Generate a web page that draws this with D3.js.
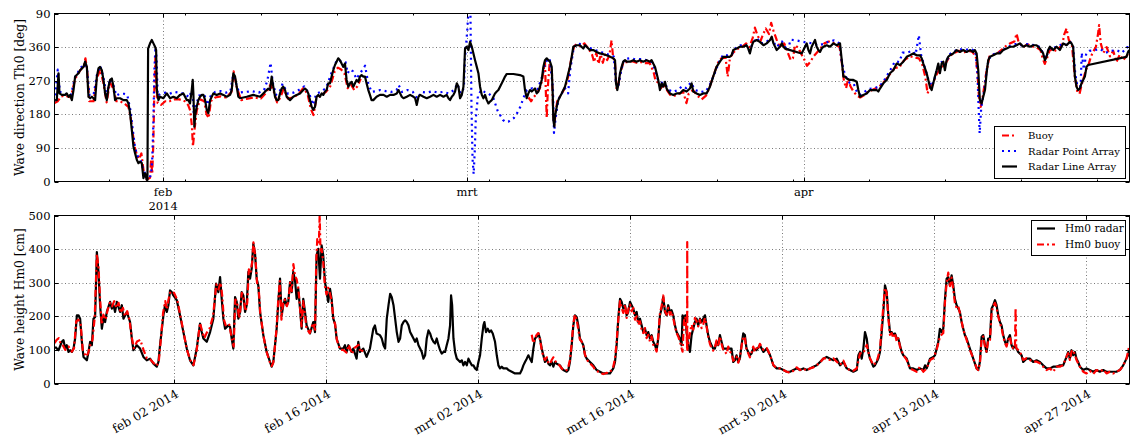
<!DOCTYPE html>
<html>
<head>
<meta charset="utf-8">
<script src="https://cdn.jsdelivr.net/npm/d3@7"></script>
<style>
  body { margin: 0; background: #fff; }
  text { font-family: "DejaVu Serif", serif; fill: #000; }
</style>
</head>
<body>
<svg id="chart" width="1130" height="441"></svg>
<script>
// Time axis: days elapsed since 2014-01-22 00:00 UTC
const startDay = Date.UTC(2014, 0, 22);
const endDay = Date.UTC(2014, 4, 1);

// Upper panel: wave direction Th0 [deg]
const dirTicks = [0, 90, 180, 270, 360, 450];
const dirTickLabels = ["0", "90", "180", "270", "360", "90"];
const dirMonthTicks = [Date.UTC(2014, 1, 1), Date.UTC(2014, 2, 1), Date.UTC(2014, 3, 1)];
const dirMonthLabels = [["feb", "2014"], ["mrt"], ["apr"]];

// Lower panel: wave height Hm0 [cm]
const hmTicks = [0, 100, 200, 300, 400, 500];
const hmDateTicks = [Date.UTC(2014, 1, 2), Date.UTC(2014, 1, 16), Date.UTC(2014, 2, 2), Date.UTC(2014, 2, 16),
                     Date.UTC(2014, 2, 30), Date.UTC(2014, 3, 13), Date.UTC(2014, 3, 27)];
const hmDateLabels = ["feb 02 2014", "feb 16 2014", "mrt 02 2014", "mrt 16 2014", "mrt 30 2014", "apr 13 2014", "apr 27 2014"];

const dirLegend = ["Buoy", "Radar Point Array", "Radar Line Array"];
const hmLegend = ["Hm0 radar", "Hm0 buoy"];

// Wave direction, radar line array [day, deg]
const dirLine = [[0.06,218],[0.21,218],[0.37,290],[0.46,236],[0.67,232],[0.98,232],[1.13,236],[1.29,227],[1.44,232],[1.60,218],[1.75,245],[1.90,281],[2.21,290],[2.36,298],[2.52,303],[2.67,307],[2.82,321],[2.98,307],[3.13,227],[3.28,223],[3.44,227],[3.59,223],[3.74,218],[3.90,281],[4.05,303],[4.20,307],[4.36,298],[4.51,272],[4.66,236],[4.82,218],[4.97,254],[5.12,272],[5.28,276],[5.43,254],[5.58,218],[5.74,223],[6.04,223],[6.35,218],[6.66,218],[6.81,209],[6.96,183],[7.12,138],[7.27,94],[7.42,76],[7.58,58],[7.73,49],[7.88,53],[8.04,49],[8.19,9],[8.34,22],[8.50,4],[8.56,4],[8.62,356],[8.80,370],[8.96,379],[9.11,370],[9.26,361],[9.36,352],[9.42,245],[9.57,218],[9.72,227],[10.03,223],[10.34,236],[10.64,223],[10.95,227],[11.26,223],[11.56,232],[11.87,236],[12.18,218],[12.33,218],[12.48,209],[12.64,245],[12.73,272],[12.79,236],[12.88,147],[12.98,183],[13.10,200],[13.25,218],[13.40,227],[13.56,232],[13.71,232],[13.87,218],[14.02,192],[14.17,183],[14.33,218],[14.48,227],[14.63,236],[14.94,232],[15.25,236],[15.55,232],[15.86,227],[16.17,232],[16.32,245],[16.47,290],[16.63,281],[16.78,254],[16.93,227],[17.09,223],[17.70,227],[18.31,232],[18.93,227],[19.23,236],[19.54,245],[19.69,249],[19.85,245],[20.00,281],[20.15,254],[20.31,227],[20.46,218],[20.61,218],[20.77,236],[20.92,249],[21.07,254],[21.23,245],[21.38,227],[21.69,218],[21.99,227],[22.30,232],[22.61,236],[22.91,245],[23.07,249],[23.22,245],[23.37,236],[23.53,218],[23.68,200],[23.83,192],[23.99,200],[24.14,227],[24.29,232],[24.45,227],[24.60,236],[24.75,232],[24.91,241],[25.06,245],[25.21,263],[25.37,263],[25.52,281],[25.67,298],[25.83,312],[25.98,321],[26.13,330],[26.29,325],[26.44,316],[26.60,307],[26.75,316],[26.90,272],[27.06,254],[27.21,263],[27.36,267],[27.52,254],[27.67,263],[27.82,272],[27.98,267],[28.13,281],[28.28,285],[28.44,281],[28.59,281],[28.74,263],[28.90,245],[29.05,232],[29.20,218],[29.36,218],[29.66,227],[29.97,232],
  [30.30,232],[30.60,227],[30.91,232],[31.22,232],[31.52,236],[31.68,245],[31.83,236],[31.98,227],[32.14,223],[32.44,227],[32.75,232],[33.06,227],[33.21,223],[33.36,205],[33.52,227],[33.67,232],[33.98,227],[34.28,223],[34.59,227],[34.90,232],[35.20,227],[35.51,232],[35.82,227],[36.12,232],[36.28,223],[36.43,218],[36.59,227],[36.74,232],[36.89,241],[37.05,263],[37.20,254],[37.35,223],[37.51,232],[37.66,254],[37.81,356],[37.97,361],[38.12,352],[38.27,374],[38.43,361],[38.58,343],[38.73,325],[38.89,307],[39.04,290],[39.19,254],[39.35,232],[39.50,223],[39.65,232],[39.81,218],[39.96,209],[40.11,214],[40.27,218],[40.42,227],[40.57,236],[40.73,241],[40.88,245],[41.03,254],[41.19,263],[41.34,272],[41.49,281],[41.65,288],[42.26,288],[42.87,285],[43.18,281],[43.33,245],[43.49,223],[43.64,236],[43.79,245],[43.95,241],[44.10,245],[44.25,249],[44.41,236],[44.56,241],[44.71,254],[44.87,272],[45.02,307],[45.17,325],[45.33,330],[45.48,325],[45.63,321],[45.79,307],[45.88,236],[45.94,165],[46.03,147],[46.09,174],[46.25,200],[46.40,218],[46.55,227],[46.71,236],[46.86,245],[47.01,254],[47.17,272],[47.32,290],[47.47,307],[47.63,334],[47.78,361],[48.09,365],[48.39,365],[48.70,356],[48.86,365],[49.01,361],[49.31,352],[49.62,352],[49.93,347],[50.23,343],[50.54,341],[50.85,338],[51.16,334],[51.46,330],[51.62,325],[51.71,263],[51.83,245],[51.95,263],[52.08,290],[52.23,307],[52.38,321],[52.54,325],[52.69,321],[53.00,321],[53.30,325],[53.61,321],[53.92,325],[54.22,321],[54.53,325],[54.84,321],[54.99,325],[55.14,316],[55.30,307],[55.45,290],[55.60,272],[55.76,245],[55.91,263],[56.06,254],[56.22,267],[56.37,249],[56.68,236],[56.98,232],[57.29,236],[57.60,236],[57.90,245],[58.21,241],[58.52,249],[58.67,263],[58.82,241],[59.13,236],[59.44,232],[59.74,236],[60.05,236],[60.36,254],[60.66,281],[60.97,307],[61.28,321],[61.59,334],[61.89,334],[62.20,334],[62.35,338],[62.51,352],[62.81,356],[63.12,361],[63.43,361],[63.73,365],[63.89,356],[64.04,343],[64.19,361],[64.35,374],[64.65,379],[64.96,374],
  [65.29,365],[65.59,370],[65.90,379],[66.05,388],[66.21,370],[66.51,352],[66.82,361],[66.97,370],[67.13,361],[67.28,356],[68.81,343],[68.97,352],[69.12,361],[69.27,370],[69.43,352],[69.58,343],[69.73,361],[69.89,370],[70.04,379],[70.19,361],[70.35,352],[70.50,347],[70.65,356],[70.81,361],[71.11,365],[71.42,361],[71.73,370],[72.04,365],[72.34,370],[72.50,325],[72.65,281],[72.80,281],[72.96,276],[73.26,272],[73.57,272],[73.88,267],[74.03,245],[74.18,227],[74.49,232],[74.80,236],[75.10,245],[75.41,245],[75.72,245],[75.87,241],[76.02,249],[76.33,263],[76.64,272],[76.94,290],[77.25,298],[77.56,316],[77.86,312],[78.17,321],[78.48,334],[78.78,338],[79.09,343],[79.40,338],[79.70,338],[79.86,330],[80.01,316],[80.32,290],[80.47,272],[80.62,254],[80.78,245],[80.93,263],[81.08,281],[81.24,298],[81.39,316],[81.54,290],[81.70,316],[81.85,321],[82.00,298],[82.16,325],[82.31,334],[82.46,338],[82.77,343],[83.08,352],[83.38,347],[83.69,352],[84.00,347],[84.30,352],[84.61,347],[84.76,352],[84.92,343],[85.07,298],[85.22,218],[85.38,209],[85.53,227],[85.69,245],[85.84,290],[85.99,325],[86.15,334],[86.45,338],[86.76,343],[87.07,343],[87.37,352],[87.68,356],[87.99,361],[88.29,361],[88.60,365],[88.91,370],[89.21,361],[89.52,365],[89.83,361],[90.13,365],[90.44,365],[90.75,356],[91.05,343],[91.21,325],[91.36,334],[91.51,352],[91.67,361],[91.97,352],[92.28,361],[92.59,352],[92.89,370],[93.20,365],[93.51,374],[93.66,370],[93.81,361],[93.97,281],[94.12,254],[94.27,245],[94.43,249],[94.58,263],[94.73,272],[94.89,281],[95.04,307],[95.19,312],[98.72,334],[98.87,347],[98.97,352]];

// Wave direction, radar point array [day, deg]
const dirPoint = [[0.0,215],[0.3,300],[0.5,240],[1.0,235],[1.5,230],[1.9,280],[2.3,300],[2.7,315],[3.0,300],[3.2,232],[3.6,232],[3.9,285],[4.2,310],[4.5,280],[4.8,230],[5.1,275],[5.4,260],[5.7,230],[6.0,235],[6.4,235],[6.7,232],[7.0,190],[7.2,140],[7.4,95],[7.6,70],[7.9,60],[8.2,30],[8.5,10],[8.7,5],[8.9,20],[9.0,60],[9.1,150],[9.2,300],[9.3,360],[9.4,330],[9.5,230],[9.8,235],[10.2,238],[10.6,235],[11.0,240],[11.5,238],[12.0,235],[12.4,225],[12.7,250],[12.85,170],[13.0,200],[13.3,230],[13.8,232],[14.1,205],[14.4,230],[14.8,240],[15.3,242],[15.8,238],[16.2,242],[16.45,285],[16.7,265],[17.0,238],[17.6,240],[18.2,242],[18.8,238],[19.3,245],[19.6,270],[19.9,318],[20.1,265],[20.4,232],[20.8,245],[21.0,262],[21.5,235],[22.0,238],[22.5,245],[23.0,255],[23.5,232],[23.8,205],[24.1,235],[24.5,240],[25.0,250],[25.5,290],[26.0,325],[26.4,322],[26.8,320],[27.0,290],[27.2,300],[27.5,295],[27.8,275],[28.2,292],[28.6,310],[28.9,262],[29.2,240],[29.6,242],[30.0,245],[30.5,242],[31.0,240],[31.5,245],[31.7,258],[32.0,240],[32.5,245],[33.0,240],[33.4,222],[33.8,240],[34.3,238],[34.8,242],[35.3,238],[35.8,240],[36.3,236],[36.8,245],[37.1,262],[37.4,236],[37.7,250],[37.8,330],[38.0,400],[38.15,470],[38.3,470],[38.4,200],[38.5,60],[38.6,20],[38.7,80],[38.8,170],[39.0,230],[39.3,245],[39.6,240],[40.0,235],[40.4,225],[40.8,190],[41.0,180],[41.3,165],[41.5,160],[41.8,160],[42.0,165],[42.3,170],[42.6,183],[42.9,200],[43.2,225],[43.5,245],[44.0,250],[44.5,248],[44.9,280],[45.2,320],[45.6,330],[45.9,250],[46.0,130],[46.15,170],[46.4,220],[46.8,240],[47.0,250],[47.3,236],[47.5,300],[47.8,355],[48.1,370],[48.5,368],[49.0,362],[49.5,355],[50.0,350],[50.5,345],[51.0,340],[51.5,335],[51.7,265],[51.9,250],[52.2,300],[52.5,328],[53.0,330],[53.5,327],[54.0,328],[54.5,325],[55.0,320],[55.3,300],[55.6,270],[55.9,265],[56.2,262],[56.6,245],[57.0,240],[57.4,245],[57.8,255],[58.2,250],[58.6,265],[59.0,245],[59.5,240],[60.0,242],[60.4,262],[60.8,290],[61.2,320],[61.6,340],[62.0,338],[62.4,342],[62.8,360],[63.2,365],[63.6,368],[64.0,350],[64.3,370],[64.7,385],[65.0,370],[65.5,372],[66.0,385],[66.5,360],[67.0,375],[67.5,350],[67.8,380],[68.3,378],[68.8,375],[69.3,372],[69.8,370],[70.3,365],[70.8,368],[71.3,375],[71.8,378],[72.3,370],[72.5,320],[72.8,285],[73.2,265],[73.6,262],[73.9,240],[74.2,232],[74.6,240],[75.0,248],[75.5,250],[76.0,255],[76.5,275],[77.0,300],[77.4,322],[77.8,320],[78.1,345],[78.5,345],[79.0,350],[79.3,340],[79.6,392],[79.8,340],[80.1,310],[80.4,280],[80.7,255],[81.0,270],[81.3,305],[81.7,320],[82.0,310],[82.4,340],[82.8,348],[83.3,355],[83.8,352],[84.3,355],[84.8,350],[85.0,290],[85.1,200],[85.2,129],[85.35,200],[85.6,240],[85.9,310],[86.2,338],[86.6,342],[87.0,345],[87.5,355],[88.0,363],[88.5,368],[89.0,365],[89.5,368],[90.0,366],[90.5,365],[90.8,358],[91.1,340],[91.3,330],[91.6,355],[92.0,358],[92.4,362],[92.8,368],[93.2,366],[93.5,375],[93.8,365],[94.0,290],[94.2,255],[94.5,255],[94.6,345],[94.8,300],[95.0,340],[95.3,350],[95.8,352],[96.3,355],[96.8,345],[97.3,350],[97.8,352],[98.3,345],[98.8,360],[99.0,355]];

// Wave direction, buoy [day, deg]; null marks a gap in the record
const dirBuoy = [[0.0,210],[0.3,215],[0.6,228],[1.0,230],[1.5,225],[1.9,275],[2.3,295],[2.7,310],[2.85,330],[3.0,300],[3.2,215],[3.6,215],[3.9,275],[4.2,300],[4.5,265],[4.8,212],[5.1,265],[5.4,250],[5.7,215],[6.0,215],[6.4,210],[6.8,200],[7.0,175],[7.2,130],[7.4,90],[7.6,70],[7.8,60],[8.0,75],[8.2,30],[8.5,5],[8.8,10],[8.9,60],[9.0,20],[9.1,100],[9.2,250],[9.3,340],[9.4,250],[9.5,210],[9.8,205],[10.2,215],[10.6,215],[11.0,220],[11.5,220],[12.0,215],[12.3,205],[12.5,190],[12.65,150],[12.75,94],[12.9,140],[13.1,190],[13.4,220],[13.8,215],[14.0,180],[14.2,170],[14.4,215],[14.8,225],[15.3,228],[15.8,225],[16.3,240],[16.5,295],[16.8,250],[17.2,218],[17.8,222],[18.4,225],[19.0,222],[19.5,238],[19.9,260],[20.2,240],[20.5,212],[20.8,225],[21.1,248],[21.5,222],[22.0,225],[22.5,235],[22.9,250],[23.3,235],[23.6,195],[23.85,178],[24.1,220],[24.5,230],[25.0,240],[25.4,255],[25.8,295],[26.1,305],[26.4,300],[26.7,290],[27.0,250],[27.3,260],[27.6,245],[27.9,255],[28.2,275],null,
  [43.65,225],[43.9,215],[44.1,225],[44.4,235],[44.7,250],[44.9,270],[45.1,310],[45.17,320],[45.25,240],[45.33,170],[45.45,260],[45.6,318],[45.8,300],[45.93,180],[46.03,150],[46.15,185],[46.3,215],[46.6,230],[47.0,250],[47.3,280],[47.6,330],[47.85,362],[48.1,368],[48.5,362],[48.8,370],[49.2,355],[49.5,340],[49.7,320],[49.9,345],[50.1,315],[50.3,340],[50.5,318],[50.7,340],[50.9,325],[51.1,338],[51.3,378],[51.45,330],[51.6,325],[51.75,250],[51.9,255],[52.1,290],[52.4,320],[52.8,320],[53.2,322],[53.6,318],[54.0,320],[54.4,317],[54.8,318],[55.0,305],[55.2,290],[55.35,270],[55.6,265],[55.85,250],[56.1,262],[56.4,245],[56.7,232],[57.1,230],[57.5,235],[57.9,240],[58.2,210],[58.4,235],[58.8,245],[59.2,230],[59.6,220],[60.0,230],[60.3,250],[60.7,285],[61.1,318],[61.4,330],[61.8,332],[62.0,281],[62.2,330],[62.5,345],[62.9,355],[63.3,360],[63.7,370],[64.0,360],[64.3,385],[64.5,412],[64.7,395],[65.0,375],[65.2,390],[65.5,410],[65.8,395],[66.0,425],[66.2,405],[66.5,380],[66.8,360],[67.2,370],[67.4,355],[67.6,340],[67.8,325],[68.0,330],[68.2,365],[68.5,358],[68.8,340],[69.0,330],[69.3,310],[69.6,320],[69.9,335],[70.2,345],[70.5,355],[70.9,370],[71.3,375],[71.7,372],[72.0,365],[72.3,360],[72.5,320],[72.7,270],[72.9,250],[73.1,275],[73.3,255],[73.6,240],[73.9,230],[74.2,225],[74.5,230],[74.9,240],[75.3,245],[75.8,252],[76.2,260],[76.6,275],[77.0,290],[77.4,305],[77.8,305],[78.1,320],[78.4,328],[78.8,335],[79.2,332],[79.6,330],[79.9,315],[80.2,280],[80.4,236],[80.6,250],[80.9,262],[81.2,285],[81.5,300],[81.8,310],[82.1,318],[82.5,338],[82.9,345],[83.3,350],[83.7,345],[84.1,350],[84.5,348],[84.85,335],[85.0,290],[85.15,220],[85.3,200],[85.5,230],[85.8,290],[86.1,335],[86.5,340],[86.9,345],[87.3,355],[87.7,365],[88.0,370],[88.4,375],[88.6,396],[88.8,372],[89.2,360],[89.6,368],[90.0,362],[90.4,360],[90.8,352],[91.0,330],[91.2,315],[91.4,330],[91.7,355],[92.0,348],[92.4,355],[92.8,365],[93.0,395],[93.2,410],[93.4,380],[93.7,365],[93.95,285],[94.2,240],[94.4,235],[94.6,260],[94.8,280],[95.0,300],[95.2,310],[95.4,330],[95.6,345],[95.9,360],[96.1,395],[96.2,419],[96.35,370],[96.6,345],[96.9,360],[97.2,335],[97.5,350],[97.8,320],[98.1,340],[98.4,325],[98.7,335],[98.95,345]];

// Wave height, radar [day, cm]
const hmRadar = [[0.06,109],[0.37,99],[0.67,124],[0.83,129],[0.98,104],[1.13,114],[1.29,94],[1.44,99],[1.60,94],[1.75,104],[1.90,134],[2.06,203],[2.21,203],[2.36,193],[2.52,124],[2.67,79],[2.98,69],[3.13,94],[3.28,124],[3.44,114],[3.59,193],[3.74,198],[3.90,391],[4.05,332],[4.20,233],[4.36,163],[4.51,193],[4.66,183],[4.82,213],[5.12,243],[5.28,223],[5.43,233],[5.58,213],[5.74,243],[6.04,213],[6.20,233],[6.35,193],[6.66,213],[6.96,183],[7.12,134],[7.27,99],[7.58,114],[7.88,104],[8.19,79],[8.50,69],[8.80,74],[9.11,59],[9.42,50],[9.57,64],[9.72,114],[10.03,203],[10.18,233],[10.34,213],[10.49,233],[10.64,277],[10.80,272],[10.95,262],[11.26,248],[11.56,203],[11.87,153],[12.18,104],[12.48,69],[12.79,54],[13.10,104],[13.40,178],[13.56,153],[13.71,134],[14.02,124],[14.33,153],[14.63,193],[14.88,297],[15.09,272],[15.25,317],[15.40,252],[15.55,193],[15.71,163],[16.01,173],[16.17,168],[16.32,134],[16.47,104],[16.63,257],[16.78,243],[16.93,193],[17.09,213],[17.24,272],[17.39,262],[17.55,213],[17.70,233],[17.85,332],[18.01,312],[18.16,342],[18.31,416],[18.47,386],[18.62,312],[18.77,292],[18.93,213],[19.23,144],[19.54,94],[19.85,64],[20.00,50],[20.15,64],[20.31,114],[20.46,163],[20.61,243],[20.77,312],[20.92,203],[21.07,233],[21.23,252],[21.38,233],[21.53,243],[21.69,302],[21.84,272],[21.99,332],[22.15,307],[22.30,252],[22.45,282],[22.61,223],[22.76,163],[22.91,252],[23.07,213],[23.22,173],[23.53,149],[23.83,183],[23.99,153],[24.14,381],[24.29,401],[24.45,312],[24.60,411],[24.75,381],[24.91,302],[25.06,272],[25.21,243],[25.37,282],[25.52,252],[25.67,193],[25.83,178],[25.98,134],[26.29,104],[26.60,104],[26.75,114],[26.90,94],[27.06,114],[27.36,94],[27.52,104],[27.82,74],[27.98,124],[28.13,94],[28.44,104],[28.74,79],[29.05,104],[29.36,163],[29.51,173],[29.66,149],[29.97,144],
  [30.14,134],[30.30,114],[30.45,104],[30.60,193],[30.76,233],[30.91,267],[31.06,257],[31.22,233],[31.37,193],[31.52,153],[31.68,124],[31.83,134],[31.98,173],[32.14,183],[32.29,188],[32.44,183],[32.60,173],[32.75,153],[32.90,144],[33.06,134],[33.21,124],[33.36,134],[33.52,114],[33.67,104],[33.82,94],[33.98,74],[34.13,84],[34.28,134],[34.44,158],[34.59,149],[34.74,134],[34.90,124],[35.05,119],[35.20,134],[35.36,114],[35.51,99],[35.66,89],[35.82,94],[35.97,94],[36.12,114],[36.28,134],[36.43,173],[36.52,262],[36.62,233],[36.74,134],[36.89,94],[37.05,74],[37.20,69],[37.35,64],[37.51,69],[37.66,54],[37.81,64],[37.97,54],[38.12,74],[38.27,64],[38.43,54],[38.58,54],[38.73,45],[38.89,40],[39.04,64],[39.19,84],[39.35,134],[39.50,173],[39.59,183],[39.74,153],[39.90,163],[40.05,153],[40.20,158],[40.36,149],[40.57,124],[40.73,84],[40.88,54],[41.03,45],[41.19,50],[41.34,45],[41.65,45],[41.80,40],[42.11,35],[42.41,30],[42.87,30],[43.03,40],[43.18,54],[43.33,64],[43.49,74],[43.64,84],[43.79,74],[43.95,64],[44.10,104],[44.25,134],[44.41,139],[44.56,149],[44.71,134],[44.87,104],[45.02,84],[45.17,64],[45.33,74],[45.48,59],[45.63,54],[45.79,64],[45.94,50],[46.09,64],[46.25,59],[46.55,54],[46.71,45],[46.86,40],[47.17,35],[47.32,40],[47.47,64],[47.63,114],[47.78,173],[47.93,203],[48.09,198],[48.24,173],[48.39,134],[48.55,124],[48.70,114],[48.86,84],[49.01,74],[49.31,64],[49.62,54],[49.93,40],[50.23,35],[50.54,30],[51.16,30],[51.46,45],[51.62,64],[51.77,114],[51.92,193],[52.08,252],[52.23,243],[52.38,223],[52.54,233],[52.69,203],[52.84,213],[53.00,243],[53.15,233],[53.30,223],[53.46,203],[53.61,213],[53.76,183],[53.92,193],[54.07,173],[54.22,153],[54.38,163],[54.53,144],[54.68,153],[54.84,134],[54.99,144],[55.14,124],[55.30,114],[55.45,99],[55.60,134],[55.76,203],[55.91,223],[56.06,257],[56.22,213],[56.37,203],[56.52,233],[56.68,213],[56.83,218],[56.98,203],[57.14,173],[57.29,153],[57.44,144],[57.60,134],[57.75,114],[57.84,203],[57.97,193],[58.09,203],[58.21,153],[58.36,114],[58.52,94],[58.67,144],[58.82,163],[58.98,183],[59.13,193],[59.28,173],[59.44,193],[59.59,183],[59.74,193],[59.90,203],[60.05,173],[60.20,144],[60.36,124],[60.51,114],[60.66,104],[60.82,104],[60.97,124],[61.12,114],[61.28,144],[61.43,124],[61.59,104],[62.35,104],[62.51,64],[62.66,69],[62.81,84],[62.97,64],[63.12,74],[63.27,114],[63.43,149],[63.58,144],[63.73,104],[63.89,94],[64.04,84],[64.19,89],[64.35,104],[64.65,99],[64.96,114],
  [65.29,94],[65.59,104],[65.90,84],[66.21,54],[66.51,45],[66.82,45],[67.13,40],[67.43,35],[67.74,35],[68.05,40],[68.35,45],[68.66,40],[68.97,45],[69.27,40],[69.58,45],[69.89,50],[70.19,54],[70.50,64],[70.81,74],[71.11,79],[71.42,74],[71.73,69],[72.04,74],[72.34,54],[72.65,64],[72.96,45],[73.26,40],[73.57,35],[73.88,40],[74.03,84],[74.18,94],[74.34,74],[74.49,104],[74.64,153],[74.80,134],[74.95,94],[75.10,74],[75.41,50],[75.56,54],[75.72,64],[75.87,74],[76.02,94],[76.18,153],[76.33,213],[76.48,292],[76.64,272],[76.79,203],[76.94,153],[77.10,153],[77.25,144],[77.40,149],[77.56,134],[77.71,134],[77.86,114],[78.02,94],[78.17,84],[78.48,74],[78.78,45],[79.09,45],[79.40,40],[79.70,45],[80.01,40],[80.17,54],[80.32,45],[80.63,74],[80.93,79],[81.09,84],[81.24,104],[81.39,124],[81.54,163],[81.70,153],[81.85,163],[82.01,252],[82.16,312],[82.31,317],[82.46,292],[82.62,322],[82.77,292],[82.92,252],[83.08,233],[83.23,223],[83.38,213],[83.54,183],[83.69,163],[83.84,144],[84.00,134],[84.30,104],[84.61,74],[84.92,45],[85.07,40],[85.22,64],[85.38,139],[85.53,144],[85.69,114],[85.84,94],[85.99,134],[86.15,134],[86.30,223],[86.45,233],[86.61,248],[86.76,233],[86.91,203],[87.07,183],[87.22,173],[87.37,144],[87.53,124],[87.68,114],[87.83,134],[87.99,144],[88.14,114],[88.29,104],[88.45,114],[88.60,104],[88.75,94],[89.06,84],[89.21,64],[89.52,74],[89.83,74],[90.13,64],[90.44,69],[90.75,64],[91.05,54],[91.36,45],[91.67,45],[91.97,50],[92.28,50],[92.59,54],[92.89,54],[93.20,79],[93.36,94],[93.51,74],[93.66,99],[93.81,84],[93.97,94],[94.12,74],[94.27,64],[94.43,50],[94.74,40],[95.04,45],[95.35,40],[95.66,35],[95.96,40],[96.27,35],[96.58,40],[96.88,35],[97.19,35],[97.50,35],[97.80,35],[98.11,40],[98.42,54],[98.72,74],[98.87,84],[98.97,104]];

// Wave height, buoy [day, cm]; null marks a gap in the record
const hmBuoy = [[0.0,120],[0.2,130],[0.4,135],[0.6,115],[0.8,112],[1.0,100],[1.3,110],[1.6,95],[1.8,105],[2.0,185],[2.2,190],[2.4,180],[2.6,100],[2.9,80],[3.1,90],[3.3,115],[3.5,130],[3.7,195],[3.9,385],[4.05,345],[4.2,250],[4.35,175],[4.5,205],[4.7,190],[4.9,220],[5.1,240],[5.3,230],[5.5,245],[5.7,225],[5.9,240],[6.1,210],[6.3,225],[6.5,200],[6.7,215],[6.9,190],[7.1,140],[7.3,105],[7.6,125],[7.9,130],[8.2,100],[8.5,75],[8.8,72],[9.1,62],[9.4,52],[9.6,65],[9.75,115],[10.0,210],[10.2,245],[10.35,220],[10.5,250],[10.65,270],[10.8,275],[11.0,270],[11.3,250],[11.6,200],[11.9,150],[12.2,100],[12.5,70],[12.8,55],[13.1,100],[13.4,180],[13.6,155],[13.8,135],[14.0,150],[14.3,165],[14.6,200],[14.9,295],[15.1,280],[15.3,300],[15.45,260],[15.6,190],[15.8,170],[16.1,175],[16.35,130],[16.5,110],[16.65,250],[16.8,245],[17.0,195],[17.1,215],[17.25,270],[17.4,255],[17.6,215],[17.75,240],[17.9,340],[18.05,330],[18.2,360],[18.32,420],[18.5,375],[18.65,300],[18.8,285],[18.95,210],[19.25,140],[19.55,92],[19.85,62],[20.0,52],[20.15,62],[20.3,110],[20.45,165],[20.6,245],[20.75,305],[20.9,190],[21.05,240],[21.2,250],[21.4,230],[21.55,245],[21.7,300],[21.85,275],[22.0,355],[22.15,320],[22.3,310],[22.45,285],[22.6,230],[22.75,170],[22.9,245],[23.05,210],[23.2,165],[23.5,150],[23.8,180],[24.0,160],[24.1,360],[24.2,430],[24.35,420],[24.42,500],[24.5,390],[24.6,400],[24.75,360],[24.9,290],[25.05,265],[25.2,285],[25.35,270],[25.5,250],[25.7,190],[25.85,175],[26.0,130],[26.3,100],[26.6,100],[26.9,92],[27.1,115],[27.4,88],[27.6,105],[27.8,110],[28.0,115],[28.2,92],[28.4,100],null,
  [43.95,145],[44.1,120],[44.25,135],[44.41,145],[44.56,150],[44.71,130],[44.87,100],[45.02,80],[45.17,70],[45.33,78],[45.48,62],[45.63,58],[45.79,70],[45.94,78],[46.09,68],[46.25,62],[46.4,58],[46.55,52],[46.71,45],[46.86,40],[47.02,38],[47.17,40],[47.32,50],[47.47,70],[47.63,120],[47.78,180],[47.93,205],[48.09,190],[48.24,160],[48.39,130],[48.55,125],[48.7,110],[48.86,85],[49.01,72],[49.16,65],[49.31,60],[49.47,55],[49.62,50],[49.77,42],[49.93,38],[50.08,35],[50.23,32],[50.39,30],[50.54,28],[50.7,30],[50.85,32],[51.0,30],[51.16,35],[51.31,40],[51.46,50],[51.62,75],[51.77,125],[51.92,190],[52.08,245],[52.23,225],[52.38,210],[52.54,235],[52.69,195],[52.84,220],[53.0,235],[53.15,215],[53.3,225],[53.46,190],[53.61,200],[53.76,175],[53.92,185],[54.07,160],[54.22,150],[54.38,165],[54.53,135],[54.68,145],[54.84,125],[54.99,140],[55.14,115],[55.3,108],[55.45,95],[55.6,140],[55.76,210],[55.91,230],[56.06,262],[56.22,215],[56.37,205],[56.52,225],[56.68,205],[56.83,215],[56.98,195],[57.14,170],[57.29,150],[57.44,140],[57.6,125],[57.75,105],[57.84,95],[57.97,185],[58.09,200],[58.21,150],[58.26,100],[58.27,421],[58.28,100],[58.36,120],[58.52,150],[58.67,175],[58.82,160],[58.98,195],[59.13,185],[59.28,170],[59.44,190],[59.59,165],[59.74,175],[59.9,195],[60.05,170],[60.2,140],[60.36,118],[60.51,105],[60.66,98],[60.82,108],[60.97,128],[61.12,110],[61.28,140],[61.43,118],[61.59,100],[61.74,95],[61.9,88],[62.05,110],[62.2,95],[62.35,90],[62.51,68],[62.66,72],[62.81,80],[62.97,62],[63.12,78],[63.27,110],[63.43,140],[63.58,135],[63.73,100],[63.89,90],[64.04,78],[64.19,92],[64.35,110],[64.5,95],[64.65,105],[64.8,100],[64.96,118],
  [65.29,100],[65.6,105],[65.9,85],[66.2,55],[66.5,45],[66.82,45],[67.13,40],[67.43,35],[67.74,32],[68.05,38],[68.35,48],[68.66,40],[68.97,45],[69.27,38],[69.58,45],[69.89,48],[70.2,55],[70.5,62],[70.81,75],[71.1,75],[71.42,70],[71.73,75],[72.04,65],[72.34,55],[72.65,68],[72.96,45],[73.26,40],[73.57,38],[73.88,45],[74.18,90],[74.49,90],[74.8,115],[75.1,75],[75.41,55],[75.72,65],[76.02,100],[76.18,170],[76.33,230],[76.48,285],[76.64,270],[76.79,195],[76.94,145],[77.1,150],[77.25,135],[77.4,150],[77.56,125],[77.71,135],[77.86,110],[78.17,85],[78.48,70],[78.78,45],[79.09,40],[79.4,35],[79.7,50],[80.01,35],[80.32,45],[80.63,70],[80.93,75],[81.24,100],[81.55,140],[81.85,150],[82.0,240],[82.16,300],[82.31,330],[82.47,290],[82.62,315],[82.77,280],[82.92,240],[83.08,225],[83.23,230],[83.38,210],[83.69,160],[84.0,130],[84.3,100],[84.61,75],[84.92,45],[85.07,40],[85.23,60],[85.38,135],[85.53,140],[85.69,110],[85.84,95],[85.99,130],[86.15,130],[86.3,210],[86.45,230],[86.61,240],[86.76,225],[86.91,200],[87.07,180],[87.22,165],[87.37,140],[87.53,120],[87.68,110],[87.83,130],[87.99,140],[88.14,110],[88.29,105],[88.45,105],[88.51,225],[88.57,105],[88.75,100],[89.06,85],[89.21,70],[89.52,75],[89.83,70],[90.13,65],[90.44,65],[90.75,60],[91.05,50],[91.36,40],[91.67,45],[91.97,35],[92.28,50],[92.59,50],[92.9,55],[93.2,80],[93.35,90],[93.51,70],[93.66,95],[93.81,100],[93.97,85],[94.12,70],[94.43,50],[94.74,35],[95.04,30],[95.35,38],[95.66,28],[95.96,40],[96.27,35],[96.58,42],[96.88,30],[97.19,35],[97.5,30],[97.8,35],[98.11,40],[98.42,54],[98.72,74],[98.97,110]];

const svg = d3.select("#chart");
const L = 54.5, R = 1129.5;
const panels = {
  dir: { top: 13.5, bottom: 181.5 },
  hm:  { top: 215.5, bottom: 383.5 }
};

const x = d3.scaleUtc().domain([startDay, endDay]).range([L, R]);
const toDate = d => new Date(startDay + d * 864e5);
const yDir = d3.scaleLinear().domain([0, 450]).range([panels.dir.bottom, panels.dir.top]);
const yHm = d3.scaleLinear().domain([0, 500]).range([panels.hm.bottom, panels.hm.top]);

// Font size that makes a sample string run a given number of pixels
function sizeForLength(sample, px) {
  const probe = svg.append("text").attr("font-size", 20).text(sample);
  const w = probe.node().getComputedTextLength();
  probe.remove();
  return 20 * px / w;
}
const tickFont = sizeForLength("3602014", 51.3);
const axisLabelFont = sizeForLength("Wave direction Th0 [deg]", 157);
const dateFont = sizeForLength("feb 02 2014", 74);
const legendFontDir = sizeForLength("Radar Point Array", 92);
const legendFontHm = sizeForLength("Hm0 radar", 59);

const gridStyle = sel => sel.attr("stroke", "#000").attr("stroke-width", 0.7)
  .attr("stroke-dasharray", "1,2.5").attr("opacity", 0.75);

function drawGrid(p, y, yVals, xVals) {
  const g = svg.append("g");
  g.selectAll(".gy").data(yVals.slice(1, -1)).join("line")
    .attr("x1", L).attr("x2", R).attr("y1", d => Math.round(y(d)) + 0.5).attr("y2", d => Math.round(y(d)) + 0.5)
    .call(gridStyle);
  g.selectAll(".gx").data(xVals).join("line")
    .attr("x1", d => Math.round(x(d)) + 0.5).attr("x2", d => Math.round(x(d)) + 0.5)
    .attr("y1", p.top).attr("y2", p.bottom)
    .call(gridStyle);
}

function clipFor(id, p) {
  svg.append("clipPath").attr("id", id).append("rect")
    .attr("x", L).attr("y", p.top).attr("width", R - L).attr("height", p.bottom - p.top);
}

function drawSeries(data, y, clip, color, dash, width) {
  const line = d3.line().defined(d => d !== null)
    .x(d => x(toDate(d[0]))).y(d => y(d[1]));
  svg.append("path").datum(data).attr("d", line)
    .attr("clip-path", `url(#${clip})`)
    .attr("fill", "none").attr("stroke", color).attr("stroke-width", width)
    .attr("stroke-linejoin", "round")
    .attr("stroke-dasharray", dash);
}

function drawFrame(p, y, yVals, yLabels, xMajor, xMinor) {
  const g = svg.append("g");
  g.append("rect").attr("x", L).attr("y", p.top).attr("width", R - L).attr("height", p.bottom - p.top)
    .attr("fill", "none").attr("stroke", "#000").attr("stroke-width", 1);
  const tick = (x1, y1, x2, y2) => g.append("line").attr("x1", x1).attr("y1", y1).attr("x2", x2).attr("y2", y2)
    .attr("stroke", "#000").attr("stroke-width", 1);
  yVals.forEach(v => {
    const yy = Math.round(y(v)) + 0.5;
    tick(L, yy, L + 4, yy);
    tick(R - 4, yy, R, yy);
  });
  xMajor.forEach(t => {
    const xx = Math.round(x(t)) + 0.5;
    tick(xx, p.bottom, xx, p.bottom - 4);
    tick(xx, p.top, xx, p.top + 4);
  });
  xMinor.forEach(t => {
    const xx = Math.round(x(t)) + 0.5;
    tick(xx, p.bottom, xx, p.bottom - 2);
    tick(xx, p.top, xx, p.top + 2);
  });
  g.selectAll(".yl").data(yVals).join("text")
    .attr("x", L - 4).attr("y", d => y(d)).attr("dy", "0.35em")
    .attr("text-anchor", "end").attr("font-size", tickFont)
    .text((d, i) => yLabels[i]);
}

function drawLegend(box, rows, fontSize) {
  const g = svg.append("g");
  g.append("rect").attr("x", box.x + 0.5).attr("y", box.y + 0.5).attr("width", box.w).attr("height", box.h)
    .attr("fill", "#fff").attr("stroke", "#000").attr("stroke-width", 1);
  rows.forEach((r, i) => {
    const yy = box.y + box.first + i * box.step;
    g.append("line").attr("x1", box.sx).attr("x2", box.sx + box.sw).attr("y1", yy).attr("y2", yy)
      .attr("stroke", r.color).attr("stroke-width", 2.2).attr("stroke-dasharray", r.dash);
    g.append("text").attr("x", box.tx).attr("y", yy).attr("dy", "0.35em")
      .attr("font-size", fontSize).text(r.label);
  });
}

const buoyDash = "7,3,2,3";
const pointDash = "2,4";

// ---- Upper panel: wave direction ----
const mondays = d3.utcMonday.range(new Date(startDay), new Date(endDay));
drawGrid(panels.dir, yDir, dirTicks, dirMonthTicks);
clipFor("clipDir", panels.dir);
drawSeries(dirBuoy, yDir, "clipDir", "#ff0000", buoyDash, 2.2);
drawSeries(dirPoint, yDir, "clipDir", "#0000ff", pointDash, 2.2);
drawSeries(dirLine, yDir, "clipDir", "#000000", null, 2.2);
drawFrame(panels.dir, yDir, dirTicks, dirTickLabels, dirMonthTicks, mondays);

dirMonthTicks.forEach((t, i) => {
  dirMonthLabels[i].forEach((s, j) => {
    svg.append("text").attr("x", x(t)).attr("y", panels.dir.bottom + 14.5 + j * 14)
      .attr("text-anchor", "middle").attr("font-size", tickFont).text(s);
  });
});
svg.append("text").attr("transform", `translate(23.5,${(panels.dir.top + panels.dir.bottom) / 2}) rotate(-90)`)
  .attr("text-anchor", "middle").attr("font-size", axisLabelFont).text("Wave direction Th0 [deg]");

drawLegend({ x: 994, y: 126, w: 131, h: 52, first: 9.5, step: 15.5, sx: 1002, sw: 15, tx: 1028 }, [
  { label: dirLegend[0], color: "#ff0000", dash: buoyDash },
  { label: dirLegend[1], color: "#0000ff", dash: pointDash },
  { label: dirLegend[2], color: "#000000", dash: null }
], legendFontDir);

// ---- Lower panel: wave height ----
drawGrid(panels.hm, yHm, hmTicks, hmDateTicks);
clipFor("clipHm", panels.hm);
drawSeries(hmRadar, yHm, "clipHm", "#000000", null, 2.2);
drawSeries(hmBuoy, yHm, "clipHm", "#ff0000", buoyDash, 2.2);
drawFrame(panels.hm, yHm, hmTicks, hmTicks.map(String), hmDateTicks, []);

hmDateTicks.forEach((t, i) => {
  svg.append("text")
    .attr("transform", `translate(${x(t) + 1},${panels.hm.bottom + 5}) rotate(-30)`)
    .attr("text-anchor", "end").attr("dy", "0.75em").attr("font-size", dateFont)
    .text(hmDateLabels[i]);
});
svg.append("text").attr("transform", `translate(23.5,${(panels.hm.top + panels.hm.bottom) / 2}) rotate(-90)`)
  .attr("text-anchor", "middle").attr("font-size", axisLabelFont).text("Wave height Hm0 [cm]");

drawLegend({ x: 1031, y: 220, w: 94, h: 35, first: 8.5, step: 16, sx: 1037, sw: 18, tx: 1065 }, [
  { label: hmLegend[0], color: "#000000", dash: null },
  { label: hmLegend[1], color: "#ff0000", dash: buoyDash }
], legendFontHm);
</script>
</body>
</html>
